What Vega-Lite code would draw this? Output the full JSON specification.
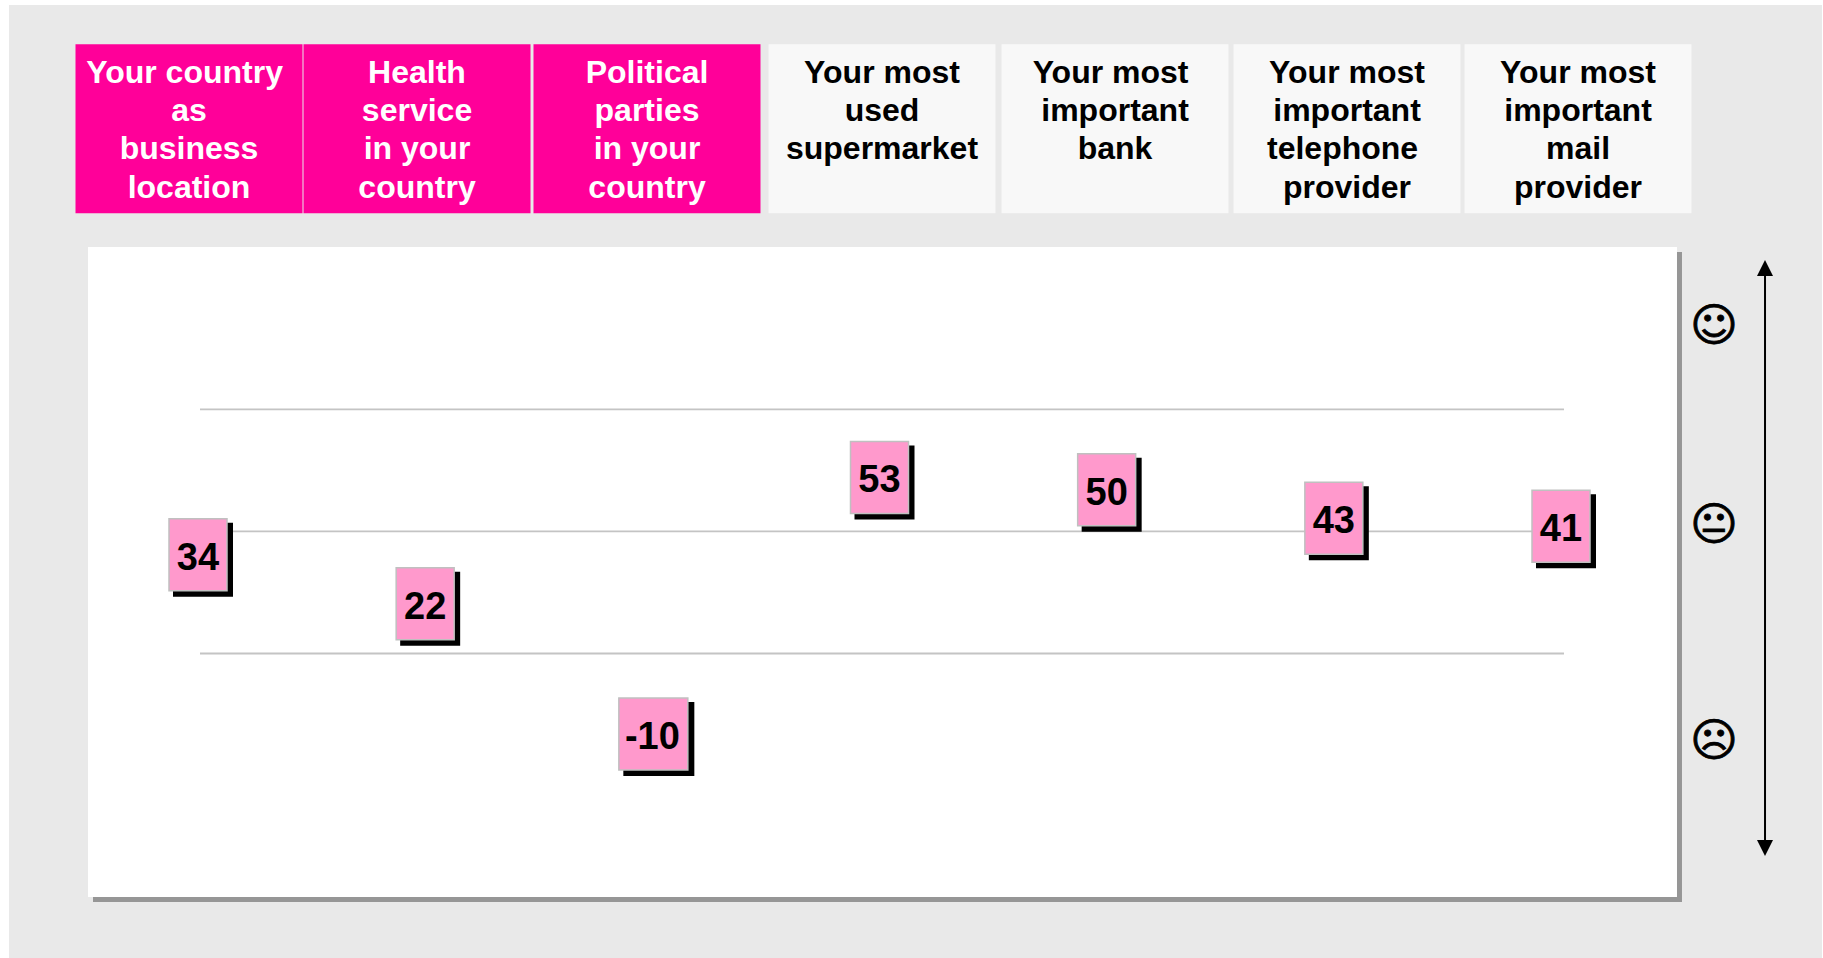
{"$schema":"https://vega.github.io/schema/vega-lite/v6.json","width":1823,"height":958,"autosize":"none","padding":0,"background":"white","config":{"view":{"stroke":null},"text":{"font":"Liberation Sans"}},
"datasets":{"scores":[{"col":1,"item":"Your country as business location","score":34},{"col":2,"item":"Health service in your country","score":22},{"col":3,"item":"Political parties in your country","score":-10},{"col":4,"item":"Your most used supermarket","score":53},{"col":5,"item":"Your most important bank","score":50},{"col":6,"item":"Your most important telephone provider","score":43},{"col":7,"item":"Your most important mail provider","score":41}],
"headers":[{"col":1,"sector":"public","label":"Your country\u00a0\u200b\nas\nbusiness\nlocation"},{"col":2,"sector":"public","label":"Health\nservice\nin your\ncountry"},{"col":3,"sector":"public","label":"Political\nparties\nin your\ncountry"},{"col":4,"sector":"commercial","label":"Your most\nused\nsupermarket"},{"col":5,"sector":"commercial","label":"Your most\u00a0\u200b\nimportant\nbank"},{"col":6,"sector":"commercial","label":"Your most\nimportant\ntelephone\u00a0\u200b\nprovider"},{"col":7,"sector":"commercial","label":"Your most\nimportant\nmail\nprovider"}],
"levels":[{"level":10},{"level":40},{"level":70}],"one":[{"n":1}]},
"resolve":{"scale":{"x":"independent"}},
"layer":[
{"layer":[
{"data":{"name":"one"},"mark":{"type":"rect","fill":"#E9E9E9"},"encoding":{"x":{"datum":0.168,"type":"quantitative","axis":null,"scale":{"domain":[1,7],"range":[198,1561],"nice":false,"zero":false}},"x2":{"datum":8.149},"y":{"datum":169.31,"type":"quantitative","axis":null,"scale":{"domain":[-64.8,170.55],"range":[958,0],"nice":false,"zero":false}},"y2":{"datum":-64.8}}},
{"data":{"name":"one"},"mark":{"type":"rect","fill":"#969696"},"encoding":{"x":{"datum":0.5378,"type":"quantitative","axis":null,"scale":{"domain":[1,7],"range":[198,1561],"nice":false,"zero":false}},"x2":{"datum":7.5326},"y":{"datum":108.63,"type":"quantitative","axis":null,"scale":{"domain":[-64.8,170.55],"range":[958,0],"nice":false,"zero":false}},"y2":{"datum":-51.06}}},
{"data":{"name":"one"},"mark":{"type":"rect","fill":"#FFFFFF"},"encoding":{"x":{"datum":0.5158,"type":"quantitative","axis":null,"scale":{"domain":[1,7],"range":[198,1561],"nice":false,"zero":false}},"x2":{"datum":7.5106},"y":{"datum":109.85,"type":"quantitative","axis":null,"scale":{"domain":[-64.8,170.55],"range":[958,0],"nice":false,"zero":false}},"y2":{"datum":-49.83}}},
{"data":{"name":"levels"},"mark":{"type":"rule","stroke":"#C4C4C4","strokeWidth":1.8},"encoding":{"x":{"datum":1.0088,"type":"quantitative","axis":null,"scale":{"domain":[1,7],"range":[198,1561],"nice":false,"zero":false}},"x2":{"datum":7.0132},"y":{"field":"level","type":"quantitative","axis":null,"scale":{"domain":[-64.8,170.55],"range":[958,0],"nice":false,"zero":false}}}},
{"data":{"name":"scores"},"transform":[{"filter":"datum.score >= 0"}],"mark":{"type":"rect","fill":"#000000","width":60,"height":74,"xOffset":5,"yOffset":4},"encoding":{"x":{"field":"col","type":"quantitative","axis":null,"scale":{"domain":[1,7],"range":[198,1561],"nice":false,"zero":false}},"y":{"field":"score","type":"quantitative","axis":null,"scale":{"domain":[-64.8,170.55],"range":[958,0],"nice":false,"zero":false}}}},
{"data":{"name":"scores"},"transform":[{"filter":"datum.score < 0"}],"mark":{"type":"rect","fill":"#000000","width":71,"height":74,"xOffset":6.5,"yOffset":4},"encoding":{"x":{"field":"col","type":"quantitative","axis":null,"scale":{"domain":[1,7],"range":[198,1561],"nice":false,"zero":false}},"y":{"field":"score","type":"quantitative","axis":null,"scale":{"domain":[-64.8,170.55],"range":[958,0],"nice":false,"zero":false}}}},
{"data":{"name":"scores"},"transform":[{"filter":"datum.score >= 0"}],"mark":{"type":"rect","fill":"#FF99CC","stroke":"#C0C0C0","strokeWidth":1.5,"width":58,"height":72,"yOffset":-1},"encoding":{"x":{"field":"col","type":"quantitative","axis":null,"scale":{"domain":[1,7],"range":[198,1561],"nice":false,"zero":false}},"y":{"field":"score","type":"quantitative","axis":null,"scale":{"domain":[-64.8,170.55],"range":[958,0],"nice":false,"zero":false}}}},
{"data":{"name":"scores"},"transform":[{"filter":"datum.score < 0"}],"mark":{"type":"rect","fill":"#FF99CC","stroke":"#C0C0C0","strokeWidth":1.5,"width":69,"height":72,"xOffset":1,"yOffset":-1},"encoding":{"x":{"field":"col","type":"quantitative","axis":null,"scale":{"domain":[1,7],"range":[198,1561],"nice":false,"zero":false}},"y":{"field":"score","type":"quantitative","axis":null,"scale":{"domain":[-64.8,170.55],"range":[958,0],"nice":false,"zero":false}}}},
{"data":{"name":"scores"},"mark":{"type":"text","font":"Liberation Sans","fontWeight":"bold","fontSize":38,"fill":"#000000","align":"center","baseline":"alphabetic","dy":14},"encoding":{"x":{"field":"col","type":"quantitative","axis":null,"scale":{"domain":[1,7],"range":[198,1561],"nice":false,"zero":false}},"y":{"field":"score","type":"quantitative","axis":null,"scale":{"domain":[-64.8,170.55],"range":[958,0],"nice":false,"zero":false}},"text":{"field":"score","type":"nominal"}}},
{"data":{"name":"one"},"mark":{"type":"text","font":"DejaVu Sans","fontSize":46,"fill":"#000000","stroke":"#000000","strokeWidth":0.8,"align":"center","baseline":"middle","dy":3.5},"encoding":{"x":{"datum":7.6735,"type":"quantitative","axis":null,"scale":{"domain":[1,7],"range":[198,1561],"nice":false,"zero":false}},"y":{"datum":91,"type":"quantitative","axis":null,"scale":{"domain":[-64.8,170.55],"range":[958,0],"nice":false,"zero":false}},"text":{"value":"☺"}}},
{"data":{"name":"one"},"mark":{"type":"text","font":"DejaVu Sans","fontSize":46,"fill":"#000000","stroke":"#000000","strokeWidth":0.8,"align":"center","baseline":"middle","dy":3.5},"encoding":{"x":{"datum":7.6735,"type":"quantitative","axis":null,"scale":{"domain":[1,7],"range":[198,1561],"nice":false,"zero":false}},"y":{"datum":42.3,"type":"quantitative","axis":null,"scale":{"domain":[-64.8,170.55],"range":[958,0],"nice":false,"zero":false}},"text":{"value":"😐"}}},
{"data":{"name":"one"},"mark":{"type":"text","font":"DejaVu Sans","fontSize":46,"fill":"#000000","stroke":"#000000","strokeWidth":0.8,"align":"center","baseline":"middle","dy":3.5},"encoding":{"x":{"datum":7.6735,"type":"quantitative","axis":null,"scale":{"domain":[1,7],"range":[198,1561],"nice":false,"zero":false}},"y":{"datum":-10.9,"type":"quantitative","axis":null,"scale":{"domain":[-64.8,170.55],"range":[958,0],"nice":false,"zero":false}},"text":{"value":"☹"}}},
{"data":{"name":"one"},"mark":{"type":"rule","stroke":"#000000","strokeWidth":2},"encoding":{"x":{"datum":7.8981,"type":"quantitative","axis":null,"scale":{"domain":[1,7],"range":[198,1561],"nice":false,"zero":false}},"y":{"datum":104.7,"type":"quantitative","axis":null,"scale":{"domain":[-64.8,170.55],"range":[958,0],"nice":false,"zero":false}},"y2":{"datum":-37.8}}},
{"data":{"name":"one"},"mark":{"type":"point","filled":true,"fill":"#000000","opacity":1,"stroke":null,"size":256,"shape":"M0,-1L1,1L-1,1Z"},"encoding":{"x":{"datum":7.8981,"type":"quantitative","axis":null,"scale":{"domain":[1,7],"range":[198,1561],"nice":false,"zero":false}},"y":{"datum":104.7,"type":"quantitative","axis":null,"scale":{"domain":[-64.8,170.55],"range":[958,0],"nice":false,"zero":false}}}},
{"data":{"name":"one"},"mark":{"type":"point","filled":true,"fill":"#000000","opacity":1,"stroke":null,"size":256,"shape":"M0,1L1,-1L-1,-1Z"},"encoding":{"x":{"datum":7.8981,"type":"quantitative","axis":null,"scale":{"domain":[1,7],"range":[198,1561],"nice":false,"zero":false}},"y":{"datum":-37.8,"type":"quantitative","axis":null,"scale":{"domain":[-64.8,170.55],"range":[958,0],"nice":false,"zero":false}}}}
]},
{"layer":[
{"data":{"name":"headers"},"mark":{"type":"rect","width":227},"encoding":{"x":{"field":"col","type":"quantitative","axis":null,"scale":{"domain":[1,2,3,4,5,6,7],"range":[189,417,647,882,1115,1347,1578],"nice":false,"zero":false}},"y":{"datum":159.7,"type":"quantitative","axis":null,"scale":{"domain":[-64.8,170.55],"range":[958,0],"nice":false,"zero":false}},"y2":{"datum":118.18},"color":{"field":"sector","type":"nominal","legend":null,"scale":{"domain":["public","commercial"],"range":["#FF0099","#F8F8F8"]}}}},
{"data":{"name":"headers"},"mark":{"type":"text","font":"Liberation Sans","fontWeight":"bold","fontSize":32,"lineHeight":38.2,"lineBreak":"\n","align":"center","baseline":"alphabetic"},"encoding":{"x":{"field":"col","type":"quantitative","axis":null,"scale":{"domain":[1,2,3,4,5,6,7],"range":[188.5,416.5,646.5,882,1115,1347,1578],"nice":false,"zero":false}},"y":{"datum":150.15,"type":"quantitative","axis":null,"scale":{"domain":[-64.8,170.55],"range":[958,0],"nice":false,"zero":false}},"text":{"field":"label","type":"nominal"},"color":{"condition":{"test":"datum.sector === 'public'","value":"#FFFFFF"},"value":"#000000"}}}
]}
]}
